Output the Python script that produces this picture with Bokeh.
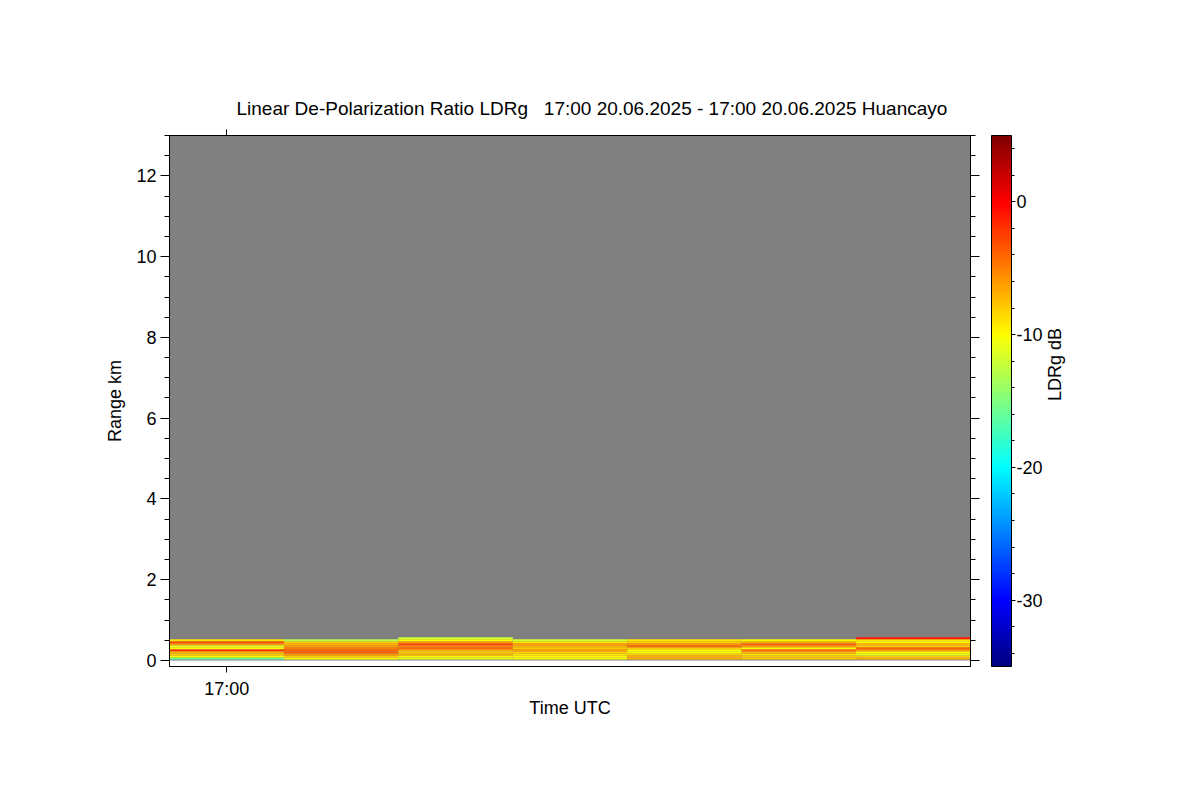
import numpy as np
from bokeh.plotting import figure
from bokeh.models import (ColumnDataSource, LinearColorMapper, ColorBar, LinearAxis,
                          FixedTicker, SingleIntervalTicker, Range1d,
                          CustomJSTickFormatter)
from bokeh.embed import file_html
from bokeh.resources import INLINE

# ---------------- data ----------------
title_text = "Linear De-Polarization Ratio LDRg \u00a0 17:00 20.06.2025 - 17:00 20.06.2025 Huancayo"
time_tick_values = [0]
time_tick_labels = ["17:00"]
profile_times_s = [0, 5, 10, 15, 20, 25, 30]      # seconds after 17:00 UTC
profile_dt_s = 5
range_start_km = 0.025
range_step_km = 0.05
range_max_km = 13.0
ldr_min, ldr_max = -35, 5
ldr_ticks = [-30, -20, -10, 0]

# LDRg (dB) per profile, from lowest range bin upward
ldr_p1 = [-16, -10, -8, -7, -2, -10, -11, -6, -3, -9]
ldr_p2 = [-10, -8, -6, -4, -4, -5, -6, -7, -8, -13]
ldr_p3 = [-11, -10, -7, -8, -7, -4, -5, -3, -6, -10, -12]
ldr_p4 = [-10, -10, -9, -8, -6, -8, -7, -6, -9, -12]
ldr_p5 = [-7, -7, -8, -10, -10, -8, -4, -6, -8, -9]
ldr_p6 = [-8, -8, -9, -7, -4, -10, -6, -4, -7, -10]
ldr_p7 = [-7, -8, -11, -10, -6, -4, -8, -7, -10, -9, -1]
profiles = [ldr_p1, ldr_p2, ldr_p3, ldr_p4, ldr_p5, ldr_p6, ldr_p7]

# ---------------- styling helpers ----------------
def jet(n=256):
    cols = []
    for i in range(n):
        x = i / (n - 1)
        r = min(max(1.5 - abs(4 * x - 3), 0), 1)
        g = min(max(1.5 - abs(4 * x - 2), 0), 1)
        b = min(max(1.5 - abs(4 * x - 1), 0), 1)
        cols.append("#%02x%02x%02x" % (int(round(r * 255)), int(round(g * 255)), int(round(b * 255))))
    return cols

FONT = "Liberation Sans"

left, right, bottom, top, val = [], [], [], [], []
for t, prof in zip(profile_times_s, profiles):
    for i, v in enumerate(prof):
        left.append(t - profile_dt_s / 2)
        right.append(t + profile_dt_s / 2)
        b = range_start_km + i * range_step_km
        bottom.append(b)
        top.append(b + range_step_km)
        val.append(v)
src = ColumnDataSource(dict(left=left, right=right, bottom=bottom, top=top, val=val))

x0 = profile_times_s[0] - profile_dt_s / 2
x1 = profile_times_s[-1] + profile_dt_s / 2

p = figure(frame_width=801, frame_height=531,
           x_range=Range1d(x0, x1), y_range=Range1d(-0.15, range_max_km),
           output_backend="svg", toolbar_location=None,
           min_border_left=169, min_border_top=135, min_border_bottom=120, min_border_right=210,
           x_axis_label="Time UTC", y_axis_label="Range km")
p.background_fill_color = "white"
p.border_fill_color = "white"
p.outline_line_color = "black"
p.grid.visible = False

p.title.text = title_text
p.title.align = "left"
p.title.offset = 67
p.title.standoff = 21
p.title.text_font = FONT
p.title.text_font_size = "19px"
p.title.text_font_style = "normal"
p.title.text_color = "black"

# grey "no data" background
p.quad(left=x0, right=x1, bottom=0, top=range_max_km, color="#808080", line_color=None)

mapper = LinearColorMapper(palette=jet(256), low=ldr_min, high=ldr_max)
p.quad(left="left", right="right", bottom="bottom", top="top", source=src,
       fill_color={"field": "val", "transform": mapper}, line_color=None)

# axes
blank = CustomJSTickFormatter(code="return ''")
xa = p.xaxis[0]
xa.ticker = FixedTicker(ticks=time_tick_values)
xa.major_label_overrides = {v: l for v, l in zip(time_tick_values, time_tick_labels)}
ya = p.yaxis[0]
ya.ticker = SingleIntervalTicker(interval=2, num_minor_ticks=4)

top_ax = LinearAxis(ticker=FixedTicker(ticks=time_tick_values), formatter=blank)
right_ax = LinearAxis(ticker=SingleIntervalTicker(interval=2, num_minor_ticks=4), formatter=blank)
p.add_layout(top_ax, "above")
p.add_layout(right_ax, "right")

for ax in [xa, top_ax]:
    ax.major_tick_in = 0
    ax.major_tick_out = 6
for ax in [ya, right_ax]:
    ax.major_tick_in = 0
    ax.major_tick_out = 9
    ax.minor_tick_in = 0
    ax.minor_tick_out = 5
for ax in [xa, ya, top_ax, right_ax]:
    ax.axis_line_color = "black"
    ax.major_tick_line_color = "black"
    ax.minor_tick_line_color = "black" if ax in (ya, right_ax) else None
    ax.major_label_text_font = FONT
    ax.major_label_text_font_size = "18px"
    ax.major_label_text_color = "black"
    ax.axis_label_text_font = FONT
    ax.axis_label_text_font_size = "18px"
    ax.axis_label_text_font_style = "normal"
    ax.axis_label_text_color = "black"
top_ax.major_label_standoff = 0
right_ax.major_label_standoff = 0
xa.major_label_standoff = 6
xa.axis_label_standoff = -4
ya.major_label_standoff = 4
ya.axis_label_standoff = 8

cb = ColorBar(color_mapper=mapper, width=20, height=531, padding=0, margin=0,
              location=(12, 0),
              ticker=FixedTicker(ticks=ldr_ticks, minor_ticks=list(range(-34, 5, 2))),
              formatter=CustomJSTickFormatter(code="return String(tick)"),
              major_label_text_font=FONT, major_label_text_font_size="18px",
              major_label_text_color="black",
              bar_line_color="black", major_tick_line_color="black",
              major_tick_in=0, major_tick_out=4, minor_tick_in=0, minor_tick_out=3,
              minor_tick_line_color="black", label_standoff=1,
              background_fill_color=None)
p.add_layout(cb, "right")

# colour-bar title, reading upward
cb_label_ax = LinearAxis(ticker=FixedTicker(ticks=[]), axis_label="LDRg dB",
                         axis_line_color=None, major_tick_line_color=None,
                         minor_tick_line_color=None, formatter=blank,
                         axis_label_text_font=FONT, axis_label_text_font_size="18px",
                         axis_label_text_font_style="normal", axis_label_text_color="black",
                         axis_label_standoff=9)
if "axis_label_orientation" in LinearAxis.properties():
    cb_label_ax.axis_label_orientation = np.pi / 2
p.add_layout(cb_label_ax, "right")

open("out.html", "w").write(file_html(p, INLINE))
